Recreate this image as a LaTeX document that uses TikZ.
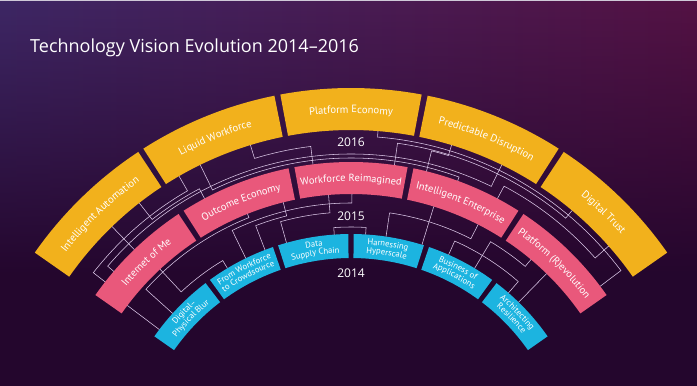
\documentclass[tikz,border=0pt]{standalone}
\usepackage{fontspec}
\setmainfont{PT Sans}
\newfontfamily\titlefont{Open Sans}
\usetikzlibrary{decorations.text,fadings}
\definecolor{segY}{HTML}{F2B11C}
\definecolor{segP}{HTML}{E9587B}
\definecolor{segB}{HTML}{1CB4E0}
\definecolor{bgA}{HTML}{24062D}
\definecolor{bgTL}{HTML}{3E2765}
\definecolor{bgTM}{HTML}{331650}
\definecolor{bgTR}{HTML}{541244}
\definecolor{lnC}{HTML}{DCC8E8}
\tikzfading[name=bgfade, top color=transparent!0, bottom color=transparent!100]
% annular segment: colour, left angle, right angle, inner r, outer r
\newcommand\evoseg[5]{%
  \fill[#1] (#2:#5) arc[start angle=#2, end angle=#3, radius=#5] -- (#3:#4)
    arc[start angle=#3, end angle=#2, radius=#4] -- cycle;}
% curved label: left angle, right angle, baseline radius, size, text
\newcommand\evotext[5]{%
  \path[decorate, decoration={text along path, text color=white,
    text={|\fontsize{#4}{#4}\selectfont|#5}, text align=center}]
    (#1:#3) arc[start angle=#1, end angle=#2, radius=#3];}
% connector: start angle, start r, track r, end angle, end r
\newcommand\evoconn[5]{%
  \draw[conn] (#1:#2) -- (#1:#3) arc[start angle=#1, end angle=#4, radius=#3] -- (#4:#5);}
\begin{document}
\begin{tikzpicture}[x=1pt,y=1pt,
  conn/.style={draw=lnC, line width=0.55pt},
  titlelbl/.style={text=white, font=\titlefont\fontsize{18}{20}\selectfont, inner sep=0pt},
  yearlbl/.style={text=white, font=\titlefont\fontsize{12}{14}\selectfont, inner sep=0pt}]
\useasboundingbox (0,0) rectangle (697,386);
% background
\fill[bgA] (0,0) rectangle (697,386);
\shade[left color=bgTL, middle color=bgTM, right color=bgTR, path fading=bgfade] (0,110) rectangle (697,386);
\fill[white!75!bgTL] (0,384.6) rectangle (697,386);
\node[titlelbl, anchor=base west] (title) at (30,333) {Technology Vision Evolution 2014–2016};
\begin{scope}[shift={(351,-88)}]
  % 2016 band
  \evoseg{segY}{145}{123.45}{344}{386}
  \evoseg{segY}{122.55}{101.45}{344}{386}
  \evoseg{segY}{100.55}{79.45}{344}{386}
  \evoseg{segY}{78.55}{57.45}{344}{386}
  \evoseg{segY}{56.55}{35}{344}{386}
  % 2015 band
  \evoseg{segP}{145}{123.55}{280}{312}
  \evoseg{segP}{122.45}{101.55}{280}{312}
  \evoseg{segP}{100.45}{79.55}{280}{312}
  \evoseg{segP}{78.45}{57.55}{280}{312}
  \evoseg{segP}{56.45}{35}{280}{312}
  % 2014 band
  \evoseg{segB}{145}{127.3}{216}{240}
  \evoseg{segB}{126.0}{108.98}{216}{240}
  \evoseg{segB}{107.68}{90.65}{216}{240}
  \evoseg{segB}{89.35}{72.32}{216}{240}
  \evoseg{segB}{71.02}{53.98}{216}{240}
  \evoseg{segB}{52.68}{35}{216}{240}
  % connectors 2016 - 2015
  \evoconn{85.5}{344}{338}{37}{312}
  \evoconn{107}{344}{330}{97}{312}
  \evoconn{116}{344}{316}{70}{312}
  \draw[conn] (134:344) -- (134:312);
  \evoconn{139.5}{312}{320}{64}{344}
  \evoconn{142}{312}{327}{120}{344}
  \evoconn{73}{344}{333}{76}{312}
  \evoconn{41.5}{344}{326}{62}{312}
  \evoconn{50}{344}{334}{82}{312}
  \evoconn{118}{312}{323}{128}{344}
  % connectors 2015 - 2014
  \evoconn{89.8}{280}{271}{116}{240}
  \evoconn{94.6}{280}{262}{105.6}{240}
  \evoconn{111.7}{280}{276}{138}{240}
  \evoconn{104}{280}{266}{111}{240}
  \evoconn{81.6}{240}{264}{63}{280}
  \draw[conn] (72.8:280) -- (72.8:240);
  \evoconn{59}{240}{271}{50}{280}
  \draw[conn] (45.7:280) -- (45.7:240);
  \evoconn{133}{280}{249}{121}{240}
  \draw[conn] (143:280) -- (143:240);
  \evoconn{94}{240}{247}{86.5}{240}
  \evoconn{66}{240}{255}{49}{240}
  % labels 2016
  \evotext{145}{123}{361}{10.6}{Intelligent Automation}
  \evotext{123}{101}{361}{10.6}{Liquid Workforce}
  \evotext{101}{79}{361}{10.6}{Platform Economy}
  \evotext{79}{57}{361}{10.6}{Predictable Disruption}
  \evotext{57}{35}{361}{10.6}{Digital Trust}
  % labels 2015
  \evotext{145}{123}{292.5}{10.4}{Internet of Me}
  \evotext{123}{101}{292.5}{10.4}{Outcome Economy}
  \evotext{101}{79}{292.5}{10.4}{Workforce Reimagined}
  \evotext{79}{57}{292.5}{10.4}{Intelligent Enterprise}
  \evotext{57}{35}{292.5}{10.4}{Platform (R)evolution}
  % labels 2014
  \evotext{145}{126.67}{230}{8.6}{Digital–}
  \evotext{145}{126.67}{221.5}{8.6}{Physical Blur}
  \evotext{126.67}{108.33}{230}{8.6}{From Workforce}
  \evotext{126.67}{108.33}{221.5}{8.6}{to Crowdsource}
  \evotext{108.33}{90}{230}{8.6}{Data}
  \evotext{108.33}{90}{221.5}{8.6}{Supply Chain}
  \evotext{90}{71.67}{230}{8.6}{Harnessing}
  \evotext{90}{71.67}{221.5}{8.6}{Hyperscale}
  \evotext{71.67}{53.33}{230}{8.6}{Business of}
  \evotext{71.67}{53.33}{221.5}{8.6}{Applications}
  \evotext{53.33}{35}{230}{8.6}{Architecting}
  \evotext{53.33}{35}{221.5}{8.6}{Resilience}
  % years
  \node[yearlbl] (y2016) at (90:332) {2016};
  \node[yearlbl] (y2015) at (90:258) {2015};
  \node[yearlbl] (y2014) at (90:201) {2014};
\end{scope}
\end{tikzpicture}
\end{document}
